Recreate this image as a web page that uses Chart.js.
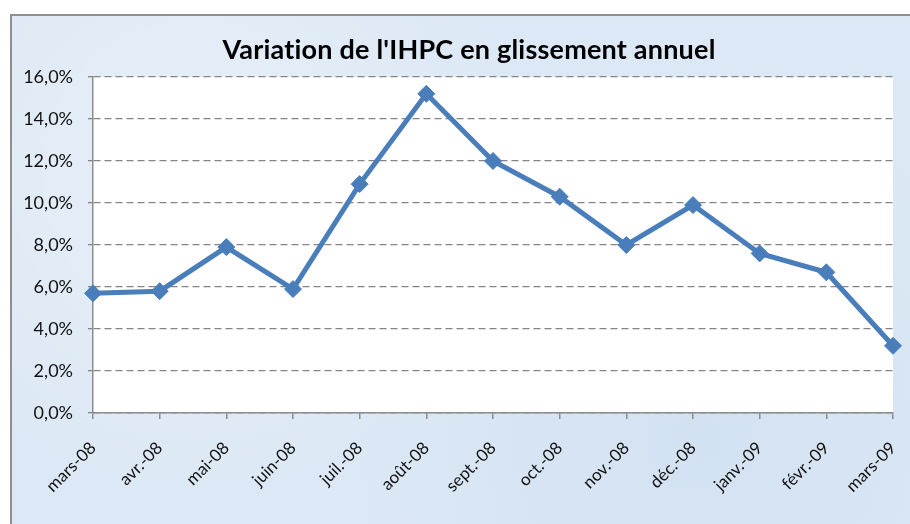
<!DOCTYPE html>
<html>
<head>
<meta charset="utf-8">
<script src="https://cdn.jsdelivr.net/npm/chart.js@4/dist/chart.umd.min.js"></script>
<style>
    html, body { margin: 0; padding: 0; background: #fff; overflow: hidden; }
    #frame {
        position: absolute; left: 10px; top: 14px; width: 920px; height: 530px;
        border: 2px solid #8f8f8f; box-sizing: border-box;
        background-color: #dce8f5;
        background-image:
            radial-gradient(circle at 20% 30%, rgba(255,255,255,0.35) 0, rgba(255,255,255,0) 40%),
            radial-gradient(circle at 75% 80%, rgba(200,218,238,0.45) 0, rgba(200,218,238,0) 45%);
    }
    #wrap { position: absolute; left: 0; top: 0; width: 910px; height: 524px; }
</style>
</head>
<body>
<div id="frame"></div>
<div id="wrap"><canvas id="ihpcChart"></canvas></div>
<script>
const months = ['mars-08', 'avr.-08', 'mai-08', 'juin-08', 'juil.-08', 'août-08', 'sept.-08',
    'oct.-08', 'nov.-08', 'déc.-08', 'janv.-09', 'févr.-09', 'mars-09'];
const ihpc = [5.7, 5.8, 7.9, 5.9, 10.9, 15.2, 12.0, 10.3, 8.0, 9.9, 7.6, 6.7, 3.2];
const yTicks = [0, 2, 4, 6, 8, 10, 12, 14, 16];
const chartTitle = "Variation de l'IHPC en glissement annuel";

const blue = '#4a7ebb';
const font = 'Lato, "Open Sans", sans-serif';

// white plot area
const plotBg = {
    id: 'plotBg',
    beforeDraw(chart) {
        const a = chart.chartArea;
        chart.ctx.save();
        chart.ctx.fillStyle = '#ffffff';
        chart.ctx.fillRect(a.left, a.top, a.right - a.left, a.bottom - a.top);
        chart.ctx.restore();
    }
};

// title is a bit right of the canvas centre in the original, so draw it here
const titleText = {
    id: 'titleText',
    afterDraw(chart) {
        const c = chart.ctx;
        c.save();
        c.font = 'bold 27px ' + font;
        c.letterSpacing = '0.2px';
        c.fillStyle = '#000';
        c.textAlign = 'center';
        c.textBaseline = 'alphabetic';
        c.fillText(chartTitle, 469, 59);
        c.restore();
    }
};

const ctx = document.getElementById('ihpcChart').getContext('2d');
new Chart(ctx, {
    type: 'line',
    data: {
        labels: months,
        datasets: [{
            label: 'IHPC',
            data: ihpc,
            borderColor: blue,
            backgroundColor: blue,
            borderWidth: 5,
            pointStyle: 'rectRot',
            pointRadius: 8.5,
            pointBorderWidth: 1,
            pointBackgroundColor: blue,
            pointBorderColor: blue,
            tension: 0
        }]
    },
    options: {
        responsive: true,
        maintainAspectRatio: false,
        animation: false,
        layout: { padding: { left: 10, right: 17, top: 77, bottom: 0 } },
        plugins: {
            legend: { display: false },
            tooltip: { enabled: false },
            title: { display: false }
        },
        scales: {
            x: {
                offset: false,
                afterFit: s => { s.height = 111; s.paddingRight = 0; s.paddingLeft = 0; },
                grid: { drawOnChartArea: false, drawTicks: true, tickLength: 6, color: '#8c8c8c', lineWidth: 1.5 },
                border: { color: '#8c8c8c', width: 1.5 },
                ticks: {
                    color: '#111',
                    font: { family: font, size: 17 },
                    minRotation: 45, maxRotation: 45,
                    padding: 19,
                    autoSkip: false
                }
            },
            y: {
                min: 0, max: 16,
                afterFit: s => { s.width = 83; s.paddingTop = 0; },
                afterBuildTicks: s => { s.ticks = yTicks.map(v => ({ value: v })); },
                grid: {
                    color: '#858585', lineWidth: 1.3, tickLength: 5,
                    tickColor: '#858585', tickBorderDash: [7, 4]
                },
                border: { color: '#8c8c8c', width: 1.5, dash: [7, 4] },
                ticks: {
                    color: '#111',
                    font: { family: font, size: 18 },
                    padding: 15,
                    callback: v => v.toFixed(1).replace('.', ',') + '%'
                }
            }
        }
    },
    plugins: [plotBg, titleText]
});
</script>
</body>
</html>
